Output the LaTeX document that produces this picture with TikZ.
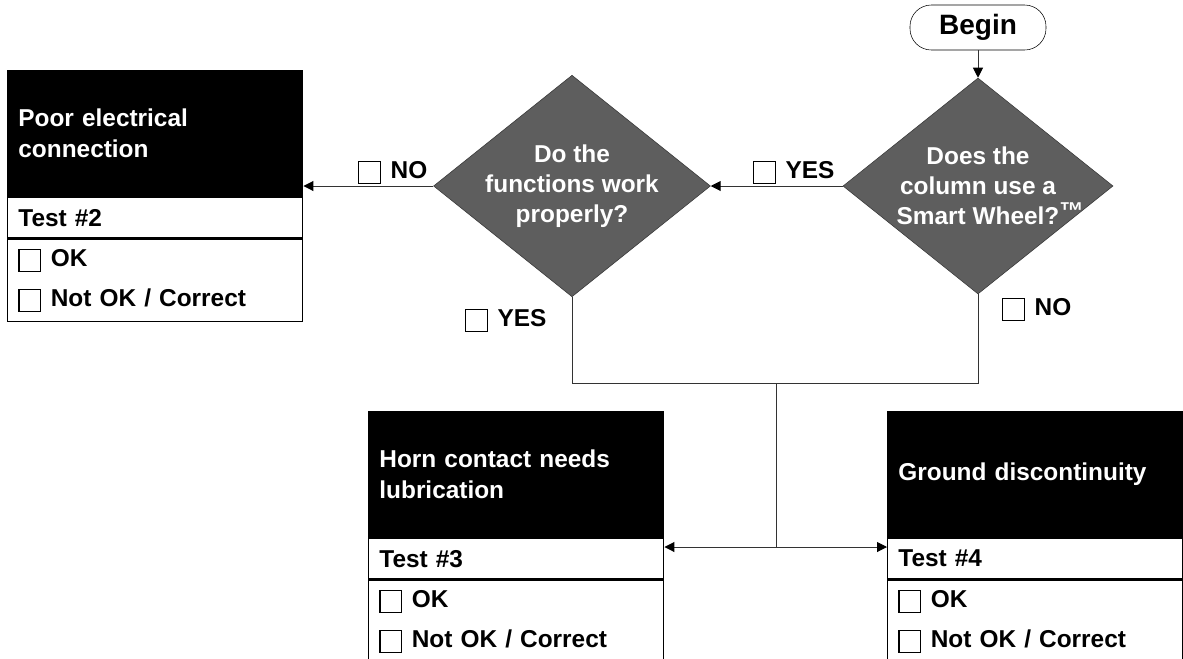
\documentclass[tikz,border=0pt]{standalone}
\usepackage{fontspec}
\setmainfont{Liberation Sans}
\usetikzlibrary{shapes.geometric,arrows.meta}
\newcommand{\tickbox}{\raisebox{-3.75pt}{\setlength{\fboxsep}{0pt}\setlength{\fboxrule}{0.9pt}\fbox{\rule{0pt}{15.5pt}\hspace{15.5pt}}}}
\tikzset{
  every node/.style={font=\fontsize{18.3}{23.5}\selectfont\bfseries},
  start/.style={draw=black, thin, rectangle, rounded corners=16pt, minimum width=102pt, minimum height=33.75pt,
    font=\fontsize{21}{24}\selectfont\bfseries},
  decision/.style={diamond, aspect=1.25, fill=black!63, draw=black!80, thin, text=white, minimum width=202.5pt,
    minimum height=162pt, align=center, inner sep=0pt,
    font=\fontsize{18.3}{22.5}\selectfont\bfseries},
  head/.style={fill=black, draw=black, line width=1.1pt, text=white, minimum width=221.25pt,
    minimum height=93.75pt, inner xsep=8pt, text width=205.25pt, align=left, anchor=north west},
  testrow/.style={draw=black, line width=1.1pt, minimum width=221.25pt, minimum height=30.75pt,
    inner xsep=8pt, text width=205.25pt, align=left, anchor=north},
  checks/.style={testrow, minimum height=61.5pt, font=\fontsize{18.3}{30}\selectfont\bfseries},
  conn/.style={draw=black!80, line width=0.75pt},
  arr/.style={conn, -{Triangle[length=7.5pt,width=7.5pt,color=black]}},
  lbl/.style={inner sep=0pt, anchor=base west}
}
\begin{document}
\begin{tikzpicture}[x=0.75pt,y=-0.75pt]
\useasboundingbox (0,0) rectangle (1183,658);
\node[start] (begin) at (978,27.5) {Begin};
\node[decision] (dsmart) at (978,186) {Does the\\column use a\\Smart Wheel?\rlap{\raisebox{4pt}{™}}};
\node[decision] (dfunc) at (572,186) {Do the\\functions work\\properly?};

\node[head] (head2) at (7,70) {Poor electrical\\connection};
\node[testrow] (test2) at (head2.south) {Test \#2};
\node[checks] (check2) at (test2.south) {\tickbox\hspace{7pt}OK\\\tickbox\hspace{7pt}Not OK / Correct};

\node[head] (head3) at (368,411) {Horn contact needs\\lubrication};
\node[testrow] (test3) at (head3.south) {Test \#3};
\node[checks] (check3) at (test3.south) {\tickbox\hspace{7pt}OK\\\tickbox\hspace{7pt}Not OK / Correct};

\node[head] (head4) at (887,411) {Ground discontinuity};
\node[testrow] (test4) at (head4.south) {Test \#4};
\node[checks] (check4) at (test4.south) {\tickbox\hspace{7pt}OK\\\tickbox\hspace{7pt}Not OK / Correct};

\coordinate (merge) at (776,383);
\coordinate (split) at (776,547);
\draw[arr] (begin) -- (dsmart);
\draw[arr] (dsmart) -- (dfunc);
\draw[arr] (dfunc) -- (head2.east |- dfunc);
\draw[conn] (dfunc.south) |- (merge);
\draw[conn] (dsmart.south) |- (merge);
\draw[conn] (merge) -- (split);
\draw[arr] (split) -- (test3.east |- split);
\draw[arr] (split) -- (test4.west |- split);

\node[lbl] (nofunc) at (358,178) {\tickbox\hspace{7pt}NO};
\node[lbl] (yessmart) at (753,178) {\tickbox\hspace{7pt}YES};
\node[lbl] (yesfunc) at (465,326) {\tickbox\hspace{7pt}YES};
\node[lbl] (nosmart) at (1002,315) {\tickbox\hspace{7pt}NO};
\end{tikzpicture}
\end{document}
